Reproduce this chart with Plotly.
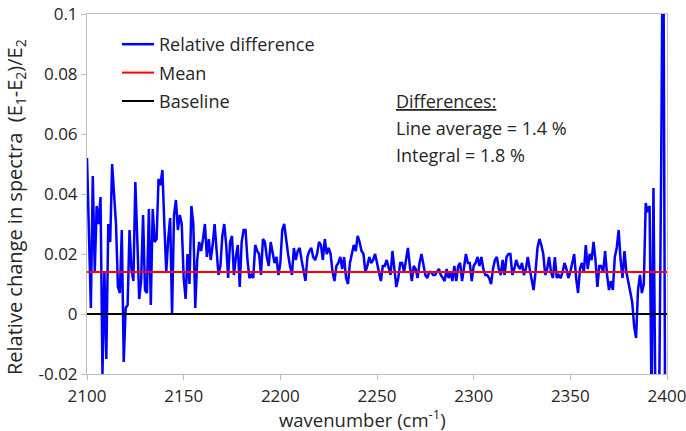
import plotly.graph_objects as go

wavenumber = list(range(2100, 2401))

rel_diff = [
    # 2100-2155
    0.052, 0.026, 0.002, 0.046, 0.014, 0.036, 0.030, 0.039, -0.020, 0.014,
    -0.015, 0.030, 0.024, 0.050, 0.040, 0.030, 0.009, 0.007, 0.028, -0.016,
    0.002, 0.003, 0.028, 0.015, 0.011, 0.044, 0.025, 0.005, 0.011, 0.033,
    0.008, 0.007, 0.035, 0.003, 0.035, 0.024, 0.025, 0.045, 0.043, 0.048,
    0.030, 0.014, 0.025, 0.032, 0.000, 0.033, 0.038, 0.028, 0.033, 0.030,
    0.012, 0.005, 0.020, 0.010, 0.036, 0.030,
    # 2156-2220
    0.002, 0.018, 0.024, 0.021, 0.025, 0.030, 0.019, 0.025, 0.018, 0.023,
    0.030, 0.020, 0.013, 0.016, 0.026, 0.030, 0.023, 0.012, 0.024, 0.026,
    0.013, 0.019, 0.023, 0.009, 0.024, 0.028, 0.028, 0.018, 0.012, 0.013,
    0.012, 0.023, 0.021, 0.020, 0.013, 0.025, 0.024, 0.019, 0.016, 0.024,
    0.020, 0.017, 0.019, 0.013, 0.017, 0.028, 0.030, 0.024, 0.020, 0.016,
    0.013, 0.022, 0.018, 0.021, 0.022, 0.018, 0.014, 0.011, 0.019, 0.021,
    0.022, 0.019, 0.018, 0.020, 0.024,
    # 2221-2285
    0.023, 0.018, 0.025, 0.020, 0.022, 0.020, 0.014, 0.011, 0.016, 0.017,
    0.019, 0.015, 0.019, 0.012, 0.010, 0.017, 0.020, 0.023, 0.021, 0.026,
    0.024, 0.021, 0.020, 0.014, 0.016, 0.019, 0.017, 0.018, 0.020, 0.017,
    0.015, 0.011, 0.016, 0.016, 0.018, 0.015, 0.013, 0.021, 0.015, 0.009,
    0.012, 0.017, 0.017, 0.014, 0.018, 0.022, 0.016, 0.011, 0.016, 0.015,
    0.012, 0.017, 0.020, 0.017, 0.013, 0.012, 0.014, 0.014, 0.013, 0.013,
    0.014, 0.015, 0.013, 0.012, 0.011,
    # 2286-2349
    0.015, 0.012, 0.014, 0.011, 0.016, 0.011, 0.016, 0.017, 0.011, 0.016,
    0.020, 0.017, 0.017, 0.011, 0.016, 0.017, 0.019, 0.016, 0.019, 0.015,
    0.013, 0.013, 0.012, 0.010, 0.015, 0.018, 0.019, 0.015, 0.013, 0.018,
    0.013, 0.019, 0.020, 0.020, 0.013, 0.015, 0.018, 0.016, 0.015, 0.017,
    0.013, 0.015, 0.019, 0.015, 0.011, 0.008, 0.014, 0.022, 0.025, 0.023,
    0.020, 0.013, 0.015, 0.019, 0.014, 0.012, 0.019, 0.012, 0.013, 0.012,
    0.014, 0.017, 0.015, 0.012,
    # 2350-2400
    0.014, 0.017, 0.020, 0.012, 0.007, 0.015, 0.017, 0.014, 0.023, 0.015,
    0.020, 0.018, 0.024, 0.018, 0.009, 0.016, 0.016, 0.014, 0.021, 0.013,
    0.008, 0.011, 0.008, 0.019, 0.022, 0.028, 0.018, 0.012, 0.021, 0.014,
    0.011, 0.007, 0.004, -0.004, -0.008, 0.008, 0.013, 0.007, 0.010, 0.037,
    0.034, 0.036, -0.030, 0.042, -0.030, -0.030, -0.025, 0.050, 0.150, -0.030,
    -0.030,
]

mean_value = 0.014
baseline_value = 0.0
x_range = [2100, 2400]
y_range = [-0.02, 0.1]
x_ticks = [2100, 2150, 2200, 2250, 2300, 2350, 2400]
y_ticks = [-0.02, 0, 0.02, 0.04, 0.06, 0.08, 0.1]
y_tick_labels = ["-0.02", "0", "0.02", "0.04", "0.06", "0.08", "0.1"]
note_lines = ["<u>Differences:</u>", "Line average = 1.4 %", "Integral = 1.8 %"]

FONT = "Open Sans, sans-serif"
TXT = "#262626"
W, H = 686, 431
L, R, T, B = 87, 19, 14, 57
PW, PH = W - L - R, H - T - B

def px_x(px):
    return (px - L) / PW

def px_y(py):
    return 1 - (py - T) / PH

fig = go.Figure()
fig.add_trace(go.Scatter(
    x=wavenumber, y=rel_diff, mode="lines", name="Relative difference",
    line=dict(color="#0000ff", width=2.5), legendgroup="a"))
fig.add_trace(go.Scatter(
    x=x_range, y=[mean_value, mean_value], mode="lines", name="Mean",
    line=dict(color="#ff0000", width=2), legendgroup="b"))
fig.add_trace(go.Scatter(
    x=x_range, y=[baseline_value, baseline_value], mode="lines", name="Baseline",
    line=dict(color="#000000", width=2), legendgroup="c"))

fig.update_layout(
    width=W, height=H,
    margin=dict(l=L, r=R, t=T, b=B, autoexpand=False),
    paper_bgcolor="white", plot_bgcolor="white",
    font=dict(family=FONT, size=17, color=TXT),
    showlegend=True,
    legend=dict(x=px_x(117), y=px_y(26), xanchor="left", yanchor="top",
                bgcolor="rgba(0,0,0,0)", font=dict(size=18),
                tracegroupgap=2, itemwidth=32),
    xaxis=dict(range=x_range, tickvals=x_ticks, showgrid=False, zeroline=False,
               showline=True, linecolor="#bfbfbf", linewidth=1, mirror=True,
               ticks="outside", ticklen=5, tickcolor="#bfbfbf",
               tickfont=dict(size=17), automargin=False,
               ticklabeloverflow="allow", ticklabelstandoff=2),
    yaxis=dict(range=y_range, tickvals=y_ticks, ticktext=y_tick_labels,
               showgrid=False, zeroline=False,
               showline=True, linecolor="#bfbfbf", linewidth=1, mirror=True,
               ticks="outside", ticklen=5, tickcolor="#bfbfbf",
               tickfont=dict(size=17), automargin=False,
               ticklabeloverflow="allow"),
)

# axis titles
fig.add_annotation(
    xref="paper", yref="paper", x=px_x(362), y=px_y(418),
    xanchor="center", yanchor="middle", showarrow=False,
    text="wavenumber (cm<sup>-1</sup>)", font=dict(size=18.5, color=TXT))
fig.add_annotation(
    xref="paper", yref="paper", x=px_x(15), y=px_y(207),
    xanchor="center", yanchor="middle", showarrow=False, textangle=-90,
    text="Relative change in spectra  (E<sub>1</sub>-E<sub>2</sub>)/E<sub>2</sub>",
    font=dict(size=20, color=TXT))

# text box
for i, line in enumerate(note_lines):
    fig.add_annotation(
        xref="paper", yref="paper", x=px_x(394), y=px_y(101 + 27 * i),
        xanchor="left", yanchor="middle", align="left", showarrow=False,
        text=line, font=dict(size=18, color=TXT))

fig.write_html("out.html", config={"displayModeBar": False},
               post_script="document.body.style.margin='0px';document.body.style.overflow='hidden';")
